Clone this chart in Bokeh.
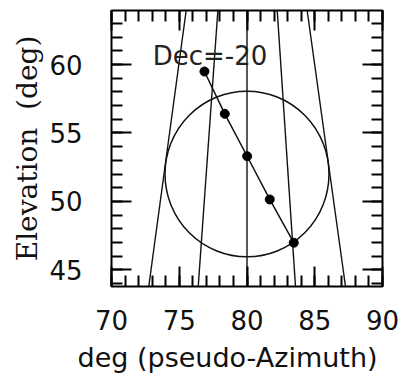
from bokeh.plotting import figure
from bokeh.models import LinearAxis, FixedTicker, Range1d, Title
from bokeh.embed import file_html
from bokeh.resources import INLINE
from bokeh.core.properties import value

# ---- data ----
x_major = [70, 75, 80, 85, 90]
x_minor = list(range(70, 91))
y_major = [45, 50, 55, 60]
y_minor = list(range(44, 65))

x_limits = [70, 90]
y_limits = [43.78, 63.95]

# five nearly vertical lines: x at the bottom and at the top of the frame
line_y_bottom = 43.78
line_y_top = 63.95
line_x_bottom = [72.75, 76.40, 80.0, 83.58, 87.27]
line_x_top = [75.51, 77.85, 80.0, 82.23, 84.44]

# circle
circle_x = [80.0]
circle_y = [52.0]
circle_diameter = [12.1]

# track with dots
track_x = [76.86, 78.36, 80.01, 81.68, 83.45]
track_y = [59.49, 56.40, 53.30, 50.14, 46.98]

label_text = ["Dec=-20"]
label_x = [77.27]
label_y = [60.66]

x_title = "deg (pseudo-Azimuth)"
y_title = "Elevation\u00a0\u00a0(deg)"

# ---- figure ----
p = figure(width=402, height=383,
           x_range=Range1d(*x_limits), y_range=Range1d(*y_limits),
           output_backend="svg", toolbar_location=None,
           x_axis_location=None, y_axis_location=None,
           min_border_left=111, min_border_right=20,
           min_border_top=10, min_border_bottom=97)
p.grid.visible = False
p.background_fill_color = "white"
p.border_fill_color = "white"
p.outline_line_color = "black"
p.outline_line_width = 2


def make_axis(ticks, minors, labels):
    ax = LinearAxis(ticker=FixedTicker(ticks=ticks, minor_ticks=minors))
    ax.major_tick_in = 20
    ax.major_tick_out = 0
    ax.minor_tick_in = 11
    ax.minor_tick_out = 0
    ax.major_tick_line_width = 2
    ax.minor_tick_line_width = 2
    ax.major_tick_line_color = "black"
    ax.minor_tick_line_color = "black"
    ax.axis_line_color = None
    if labels:
        ax.major_label_text_font = "DejaVu Sans"
        ax.major_label_text_font_size = "26px"
        ax.major_label_text_color = "#111111"
    else:
        ax.major_label_overrides = {float(t): "" for t in ticks}
        ax.major_label_standoff = 0
    return ax


bottom = make_axis(x_major, x_minor, True)
bottom.major_label_standoff = 23
p.add_layout(bottom, "below")

left = make_axis(y_major, y_minor, True)
left.major_label_standoff = 29
left.axis_label = y_title
left.axis_label_text_font = "DejaVu Serif"
left.axis_label_text_font_size = "28px"
left.axis_label_text_font_style = "normal"
left.axis_label_text_color = "#111111"
left.axis_label_standoff = 2
p.add_layout(left, "left")

top = make_axis(x_major, x_minor, False)
p.add_layout(top, "above")
right = make_axis(y_major, y_minor, False)
p.add_layout(right, "right")

# x-axis title as a title panel below the axis, shifted left like the reference
p.add_layout(Title(text=x_title, align="left", offset=-34,
                   text_font="DejaVu Sans", text_font_size="27px",
                   text_font_style="normal", text_color="#111111",
                   standoff=14), "below")

# ---- glyphs ----
p.segment(x0=line_x_bottom, y0=[line_y_bottom] * len(line_x_bottom),
          x1=line_x_top, y1=[line_y_top] * len(line_x_top),
          line_color="#111111", line_width=1.4)

p.ellipse(x=circle_x, y=circle_y, width=circle_diameter, height=circle_diameter,
          fill_color=None, line_color="#111111", line_width=1.5)

p.line(track_x, track_y, line_color="#111111", line_width=1.5)
p.scatter(track_x, track_y, size=9, fill_color="black", line_color="black")

p.text(x=label_x, y=label_y, text=label_text,
       text_font=value("DejaVu Sans"), text_font_size="26px",
       text_align="center", text_baseline="middle", text_color="#222222")

open("out.html", "w").write(file_html(p, INLINE))
